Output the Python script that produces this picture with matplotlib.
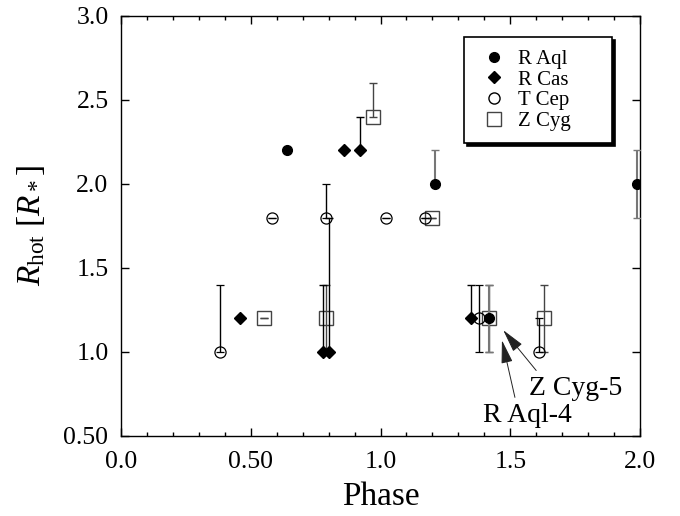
import matplotlib
matplotlib.use("Agg")
import matplotlib.pyplot as plt
from matplotlib.lines import Line2D
from matplotlib.ticker import MultipleLocator

plt.rcParams['font.family'] = ['Liberation Serif', 'DejaVu Serif']
plt.rcParams['mathtext.fontset'] = 'custom'
plt.rcParams['mathtext.rm'] = 'Liberation Serif'
plt.rcParams['mathtext.it'] = 'Liberation Serif:italic'

# data: phase, R_hot, lower / upper error
raql_phase = [0.64, 1.21, 1.99, 1.42]
raql_r = [2.2, 2.0, 2.0, 1.2]
raql_lo = [0, 0, 0.2, 0.2]
raql_hi = [0, 0.2, 0.2, 0.2]

rcas_phase = [0.46, 0.78, 0.80, 0.86, 0.92, 1.35]
rcas_r = [1.2, 1.0, 1.0, 2.2, 2.2, 1.2]
rcas_lo = [0, 0, 0, 0, 0, 0]
rcas_hi = [0, 0.4, 0.8, 0, 0.2, 0.2]

tcep_phase = [0.38, 0.58, 0.79, 1.02, 1.17, 1.38, 1.61]
tcep_r = [1.0, 1.8, 1.8, 1.8, 1.8, 1.2, 1.0]
tcep_lo = [0, 0, 0, 0, 0, 0.2, 0]
tcep_hi = [0.4, 0, 0.2, 0, 0, 0.2, 0.2]

zcyg_phase = [0.55, 0.79, 0.97, 1.20, 1.42, 1.63]
zcyg_r = [1.2, 1.2, 2.4, 1.8, 1.2, 1.2]
zcyg_lo = [0, 0.2, 0, 0, 0.2, 0.2]
zcyg_hi = [0, 0.2, 0.2, 0, 0.2, 0.2]

xticks = [0.0, 0.5, 1.0, 1.5, 2.0]
xticklabels = ['0.0', '0.50', '1.0', '1.5', '2.0']
yticks = [0.5, 1.0, 1.5, 2.0, 2.5, 3.0]
yticklabels = ['0.50', '1.0', '1.5', '2.0', '2.5', '3.0']

fig = plt.figure(figsize=(6.8, 5.16), dpi=100)
ax = fig.add_axes([121 / 680, 80 / 516, 519 / 680, 420 / 516])

ax.errorbar(zcyg_phase, zcyg_r, yerr=[zcyg_lo, zcyg_hi], fmt='s', ms=10,
            mfc='none', mec='#444444', mew=1.0, ecolor='#444444', elinewidth=1.0,
            capsize=3, capthick=1.0, zorder=3)
ax.errorbar(tcep_phase, tcep_r, yerr=[tcep_lo, tcep_hi], fmt='o', ms=8,
            mfc='none', mec='black', mew=0.9, ecolor='black', elinewidth=1.0,
            capsize=3, capthick=1.0, zorder=4)
ax.errorbar(rcas_phase, rcas_r, yerr=[rcas_lo, rcas_hi], fmt='D', ms=6.5,
            mfc='black', mec='black', ecolor='black', elinewidth=1.0,
            capsize=3, capthick=1.0, zorder=5)
ax.errorbar(raql_phase, raql_r, yerr=[raql_lo, raql_hi], fmt='o', ms=7,
            mfc='black', mec='black', ecolor='#777777', elinewidth=1.5,
            capsize=3, capthick=1.0, zorder=6)

# labelled arrows
arrow = dict(arrowstyle='-|>,head_length=0.9,head_width=0.22', color='#222222',
             lw=0.7, shrinkA=0, shrinkB=0, mutation_scale=16)
ax.annotate('', xy=(1.473, 1.13), xytext=(1.60, 0.89), arrowprops=arrow)
ax.annotate('', xy=(1.468, 1.07), xytext=(1.518, 0.73), arrowprops=arrow)
ax.text(1.572, 0.78, 'Z Cyg-5', fontsize=20, va='center', ha='left')
ax.text(1.395, 0.625, 'R Aql-4', fontsize=20, va='center', ha='left')

ax.set_xlim(0, 2.0)
ax.set_ylim(0.5, 3.0)
ax.set_xticks(xticks)
ax.set_xticklabels(xticklabels)
ax.set_yticks(yticks)
ax.set_yticklabels(yticklabels)
ax.xaxis.set_minor_locator(MultipleLocator(0.1))
ax.tick_params(which='both', direction='in', top=True, right=True, labelsize=18.5)
ax.tick_params(which='major', length=6, width=1)
ax.tick_params(which='minor', length=3, width=1)
ax.tick_params(axis='x', pad=11)
ax.tick_params(axis='y', pad=9)
for s in ax.spines.values():
    s.set_linewidth(1.0)

ax.set_xlabel('Phase', fontsize=24, labelpad=6)
ax.set_ylabel(r'$R_{\rm hot}$ [$R_*$]', fontsize=24, labelpad=12)

handles = [
    Line2D([], [], ls='none', marker='o', ms=7, mfc='black', mec='black'),
    Line2D([], [], ls='none', marker='D', ms=6, mfc='black', mec='black'),
    Line2D([], [], ls='none', marker='o', ms=8, mfc='none', mec='black'),
    Line2D([], [], ls='none', marker='s', ms=10, mfc='none', mec='#444444'),
]
labels = ['R Aql', 'R Cas', 'T Cep', 'Z Cyg']
leg = ax.legend(handles, labels, loc='upper left', mode='expand',
                bbox_to_anchor=(464 / 680, 1 - 140 / 516, 148 / 680, 103 / 516),
                bbox_transform=fig.transFigure, fontsize=15,
                frameon=True, fancybox=False, shadow={'color': 'black', 'alpha': 1},
                handlelength=1.7, handletextpad=0.3, labelspacing=0.05,
                borderpad=0.6, borderaxespad=0)
leg.get_frame().set_edgecolor('black')
leg.get_frame().set_linewidth(1.2)

fig.savefig('out.png', dpi=100)
